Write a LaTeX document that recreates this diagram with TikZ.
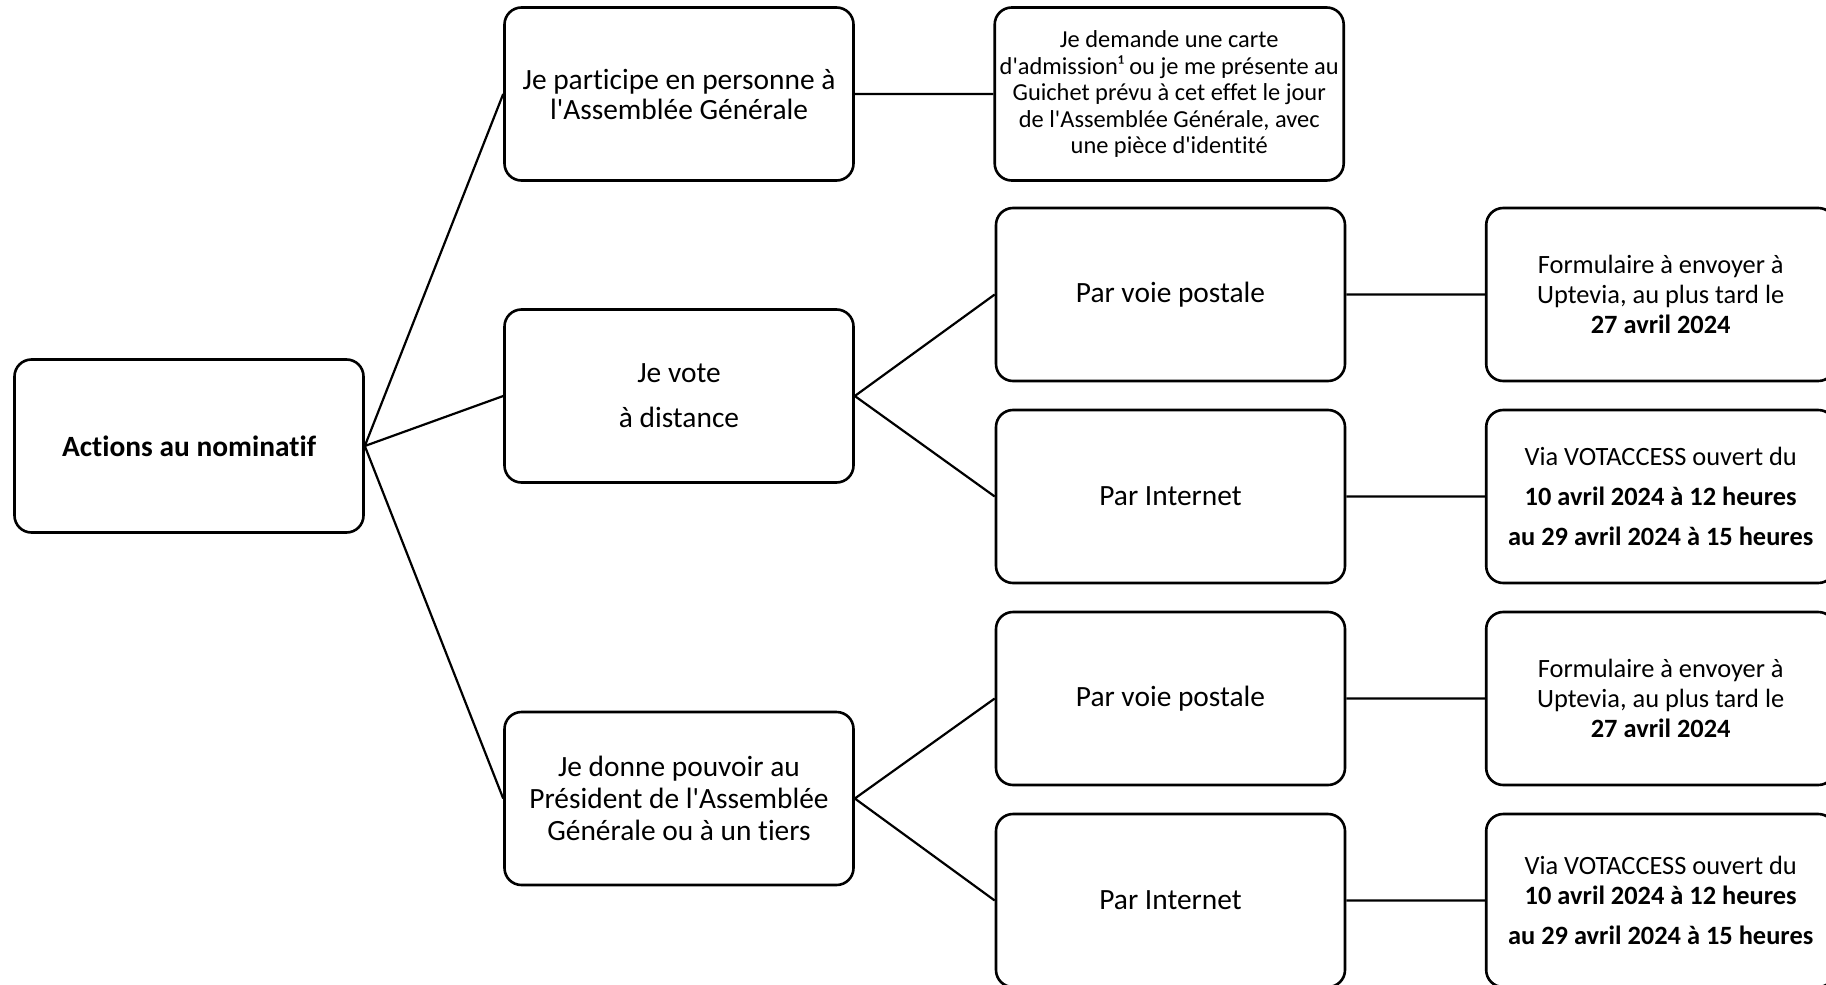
\documentclass[tikz,border=0pt]{standalone}
\usepackage{fontspec}
\usepackage{tikz}
\usetikzlibrary{positioning}
\newfontfamily\calibri{Carlito}[Ligatures=NoCommon]

\begin{document}
\begin{tikzpicture}[x=0.5pt,y=-0.5pt,node distance=69.3pt,
	box/.style={draw,line width=1.3pt,rounded corners=8.5pt,minimum width=174.5pt,minimum height=86.5pt,align=center,inner sep=0pt,font=\calibri\fontsize{14.7}{15}\selectfont},
	smallbox/.style={box,font=\calibri\fontsize{13.2}{15}\selectfont},
	tinybox/.style={box,font=\calibri\fontsize{12.2}{13.25}\selectfont},
	link/.style={line width=1.1pt}]
	\useasboundingbox (0,0) rectangle (1826,985);
	\clip (0,0) rectangle (1826,985);

	\node[box] (root) at (189,446) {\textbf{Actions au nominatif}};

	\node[box] (pres) at (679,94) {Je participe en personne à\\l'Assemblée Générale};
	\node[box] (vote) at (679,396) {Je vote\\[7.5pt]à distance};
	\node[box,font=\calibri\fontsize{14.7}{16}\selectfont] (pouv) at (679,798.5) {Je donne pouvoir au\\Président de l'Assemblée\\Générale ou à un tiers};

	\node[tinybox] (carte) [right=of pres] {Je demande une carte\\d'admission¹ ou je me présente au\\Guichet prévu à cet effet le jour\\de l'Assemblée Générale, avec\\une pièce d'identité};
	\node[box] (vpost) at (1170.5,294.5) {Par voie postale};
	\node[box] (vnet) at (1170.5,496.5) {Par Internet};
	\node[box] (ppost) at (1170.5,698.5) {Par voie postale};
	\node[box] (pnet) at (1170.5,900.5) {Par Internet};

	\node[smallbox] (vform) [right=of vpost] {Formulaire à envoyer à\\Uptevia, au plus tard le\\\textbf{27 avril 2024}};
	\node[smallbox] (vvota) [right=of vnet] {Via VOTACCESS ouvert du\\[5pt]\textbf{10 avril 2024 à 12 heures}\\[5pt]\textbf{au 29 avril 2024 à 15 heures}};
	\node[smallbox] (pform) [right=of ppost] {Formulaire à envoyer à\\Uptevia, au plus tard le\\\textbf{27 avril 2024}};
	\node[smallbox] (pvota) [right=of pnet] {Via VOTACCESS ouvert du\\\textbf{10 avril 2024 à 12 heures}\\[5pt]\textbf{au 29 avril 2024 à 15 heures}};

	\draw[link] (root.east) -- (pres.west)
		(root.east) -- (vote.west)
		(root.east) -- (pouv.west)
		(pres.east) -- (carte.west)
		(vote.east) -- (vpost.west)
		(vote.east) -- (vnet.west)
		(pouv.east) -- (ppost.west)
		(pouv.east) -- (pnet.west)
		(vpost.east) -- (vform.west)
		(vnet.east) -- (vvota.west)
		(ppost.east) -- (pform.west)
		(pnet.east) -- (pvota.west);
\end{tikzpicture}
\end{document}
